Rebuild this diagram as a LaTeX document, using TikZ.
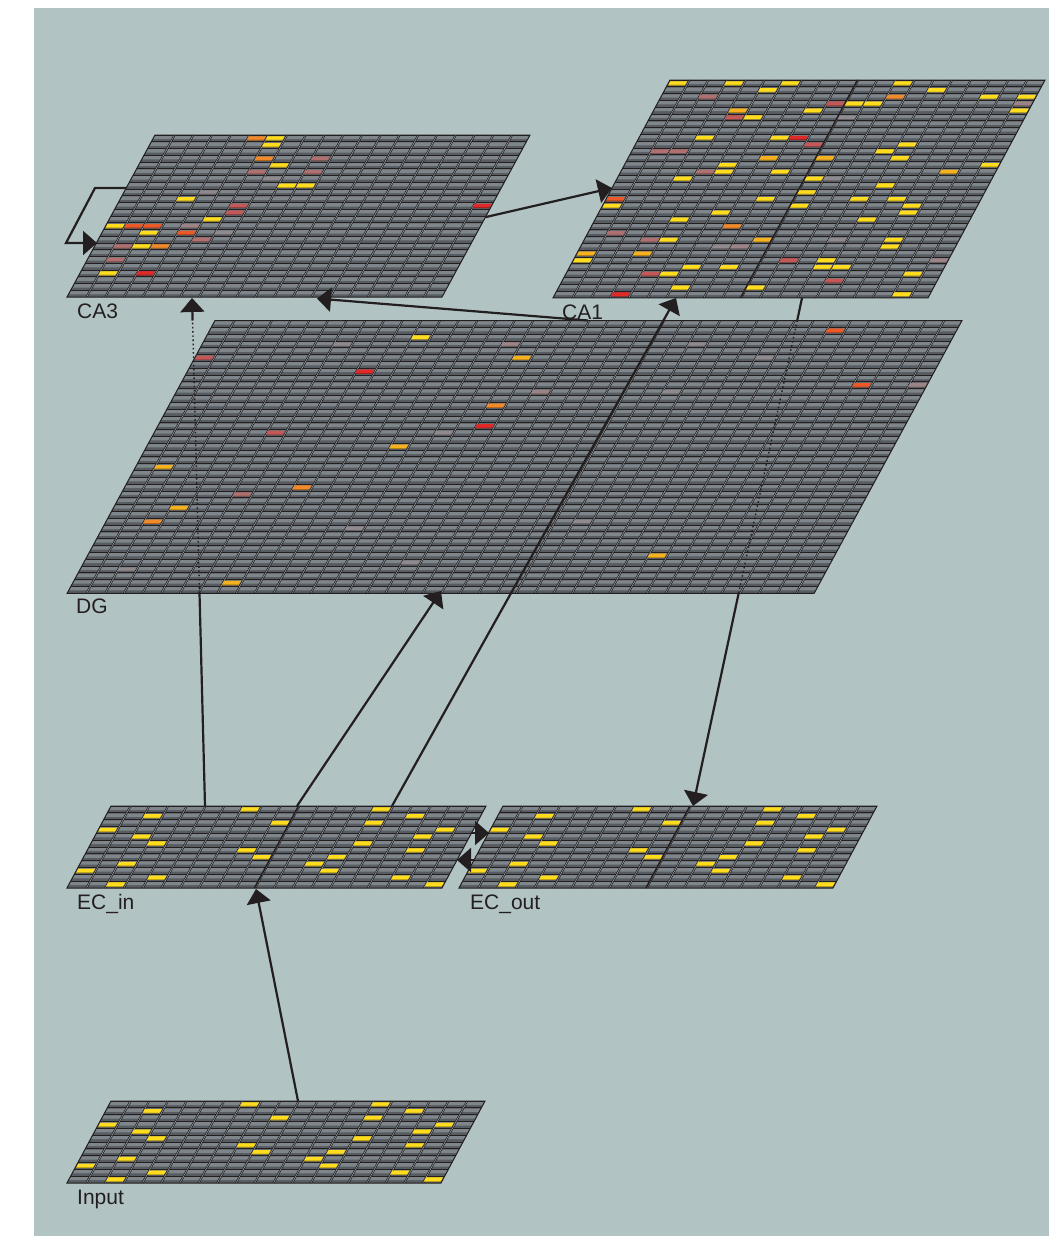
\documentclass[tikz,border=0pt]{standalone}
\usepackage{fontspec}
\setmainfont{Liberation Sans}
\usetikzlibrary{arrows.meta}
\definecolor{bg}{HTML}{B2C3C3}
\definecolor{clight}{HTML}{7E868B}
\definecolor{cdark}{HTML}{565C61}
\definecolor{cline}{HTML}{231F20}
\definecolor{csep}{HTML}{9AA1A5}
\definecolor{ltext}{HTML}{231F20}
\definecolor{cY}{HTML}{FFDC1E}
\definecolor{cA}{HTML}{F5B21E}
\definecolor{cO}{HTML}{F08A2A}
\definecolor{cOR}{HTML}{EC5A2A}
\definecolor{cR}{HTML}{E02A2A}
\definecolor{cRR}{HTML}{C45858}
\definecolor{cRo}{HTML}{B07070}
\definecolor{cMR}{HTML}{9C8486}
\definecolor{cM}{HTML}{8E8A8E}
\tikzset{
  conn/.style={draw=cline, line width=2.2pt},
  arr/.style={-{Triangle[length=14pt,width=24pt]}},
  thru/.style={draw=cline, line width=1.4pt, dash pattern=on 1.6pt off 2.6pt},
  grp/.style={draw=cline, line width=1.5pt},
  lbl/.style={anchor=base west, inner sep=0pt, text=ltext, font=\fontsize{21pt}{25pt}\selectfont},
}
% #1 x, #2 y, #3 slant, #4 cols, #5 rows, #6 cw, #7 rh, #8 cell list macro, #9 extra
\newcommand\drawlayer[9]{%
 \begin{scope}[shift={(#1,#2)},xslant=#3]
  \pgfmathsetmacro\LW{#4*#6}
  \pgfmathsetmacro\LH{#5*#7}
  \pgfmathtruncatemacro\LRm{#5-1}
  \pgfmathtruncatemacro\LCm{#4-1}
  \fill[cdark] (0,0) rectangle (\LW,\LH);
  \foreach \rr in {0,...,\LRm}{
    \fill[clight] (0,{\rr*#7+0.7}) rectangle (\LW,{\rr*#7+4.0});
    \draw[cline,line width=0.9pt] (0,{\rr*#7}) -- (\LW,{\rr*#7});}
  \foreach \cc in {1,...,\LCm}{
    \draw[csep,line width=1.1pt] ({\cc*#6+0.8},0) -- ({\cc*#6+0.8},\LH);
    \draw[cline,line width=0.55pt] ({\cc*#6},0) -- ({\cc*#6},\LH);
    \draw[cline,line width=0.55pt] ({\cc*#6+1.6},0) -- ({\cc*#6+1.6},\LH);}
  \foreach \cc/\rr/\kk in #8{
    \fill[fill=\kk!72!black] ({\cc*#6+0.9},{\rr*#7+1.3}) rectangle ({(\cc+1)*#6-1.1},{\rr*#7+5.6});
    \fill[fill=\kk] ({\cc*#6+0.9},{\rr*#7+1.3}) rectangle ({(\cc+1)*#6-1.1},{\rr*#7+4.7});}
  #9
  \draw[cline,line width=1pt] (0,0) rectangle (\LW,\LH);
 \end{scope}}
\def\ecpat{7/0/cY,14/0/cY,2/1/cY,16/1/cY,9/2/cY,14/2/cY,0/3/cY,18/3/cY,2/4/cY,17/4/cY,3/5/cY,14/5/cY,8/6/cY,17/6/cY,9/7/cY,13/7/cY,2/8/cY,12/8/cY,0/9/cY,13/9/cY,4/10/cY,17/10/cY,2/11/cY,19/11/cY}
\def\cathree{5/0/cO,6/0/cY,6/1/cY,6/3/cO,9/3/cRo,7/4/cY,6/5/cRo,9/5/cRo,7/6/cM,8/7/cY,9/7/cY,4/8/cM,3/9/cY,19/10/cR,6/10/cRR,6/11/cRR,5/12/cY,0/13/cY,1/13/cOR,2/13/cOR,4/13/cMR,2/14/cY,4/14/cOR,6/14/cM,5/15/cRo,1/16/cRo,2/16/cY,3/16/cO,1/18/cRo,1/20/cY,3/20/cR}
\def\caone{0/0/cY,3/0/cY,6/0/cY,12/0/cY,5/1/cY,14/1/cY,2/2/cRo,12/2/cO,17/2/cY,19/2/cY,9/3/cRR,10/3/cY,11/3/cY,19/3/cMR,4/4/cA,8/4/cY,19/4/cY,4/5/cRR,5/5/cY,10/5/cM,3/8/cY,7/8/cY,8/8/cR,9/9/cRR,14/9/cY,1/10/cRo,2/10/cRo,13/10/cY,7/11/cA,10/11/cA,14/11/cY,5/12/cY,19/12/cY,4/13/cRo,5/13/cY,8/13/cY,17/13/cA,3/14/cY,10/14/cY,11/14/cM,14/15/cY,10/16/cY,0/17/cOR,8/17/cY,13/17/cY,15/17/cY,0/18/cY,10/18/cY,16/18/cY,6/19/cY,16/19/cY,4/20/cY,14/20/cY,7/21/cO,1/22/cRo,3/23/cRo,4/23/cY,9/23/cA,13/23/cM,16/23/cY,7/24/cM,8/24/cMR,16/24/cY,0/25/cA,3/25/cA,0/26/cY,11/26/cRR,13/26/cY,19/26/cMR,6/27/cY,8/27/cY,13/27/cY,14/27/cY,4/28/cRR,5/28/cY,18/28/cY,14/29/cRR,6/30/cY,10/30/cY,3/31/cR,18/31/cY}
\def\dgpat{33/1/cOR,11/2/cY,7/3/cM,16/3/cMR,26/3/cM,0/5/cRR,17/5/cA,30/5/cM,9/7/cR,36/9/cOR,39/9/cMR,19/10/cMR,26/10/cM,17/12/cO,17/15/cR,6/16/cRR,15/16/cM,13/18/cA,1/21/cA,9/24/cO,6/25/cRo,3/27/cA,2/29/cO,25/29/cM,13/30/cM,30/34/cA,17/35/cM,2/36/cM,8/38/cA}
\begin{document}
\begin{tikzpicture}[x=1pt,y=-1pt]
\useasboundingbox (0,0) rectangle (1049,1243);
\fill[bg] (34,8) rectangle (1049,1236);
% layers
\drawlayer{111}{1101}{0.537}{20}{12}{18.7}{6.833}{\ecpat}{}
\drawlayer{111}{806}{0.537}{20}{12}{18.75}{6.833}{\ecpat}{\draw[grp] (187.5,0) -- (187.5,\LH);}
\drawlayer{503}{806}{0.537}{20}{12}{18.7}{6.833}{\ecpat}{\draw[grp] (187,0) -- (187,\LH);}
\drawlayer{215}{320.5}{0.542}{40}{40}{18.675}{6.82}{\dgpat}{}
\drawlayer{155}{135}{0.543}{20}{24}{18.75}{6.75}{\cathree}{}
\drawlayer{670}{80}{0.537}{20}{32}{18.75}{6.81}{\caone}{\draw[grp] (187.5,0) -- (187.5,\LH); \draw[grp] (0,163.4) -- (\LW,163.4);}
% connector points
\coordinate (inTop) at (298,1101);
\coordinate (ecinBot) at (256,889);
\coordinate (ecinTopA) at (297,806);
\coordinate (dgBot) at (441,591);
\coordinate (ecinTopB) at (205,806);
\coordinate (ca3cross1) at (199.5,593);
\coordinate (ca3cross2) at (192.6,320.5);
\coordinate (ca3BotA) at (192,298);
\coordinate (ecinTopC) at (392,806);
\coordinate (ca1BotA) at (676,298);
\coordinate (dgTop) at (588,320.5);
\coordinate (ca3BotB) at (317,298.5);
\coordinate (ca3Right) at (486,217);
\coordinate (ca1Left) at (612,188);
\coordinate (loopA) at (126,188);
\coordinate (loopB) at (95,188);
\coordinate (loopC) at (66,243);
\coordinate (loopD) at (97,243);
\coordinate (ca1BotB) at (802,298);
\coordinate (ecoutcross1) at (797.2,320.5);
\coordinate (ecoutcross2) at (738.7,593);
\coordinate (ecoutTop) at (693,806);
\coordinate (ecinR) at (471,833);
\coordinate (ecoutL) at (489,833);
\coordinate (ecoutL2) at (474,860);
\coordinate (ecinR2) at (457,860);
% connectors
\draw[conn,arr] (inTop) -- (ecinBot);
\draw[conn,arr] (ecinTopA) -- (dgBot);
\draw[conn] (ecinTopB) -- (ca3cross1);
\draw[thru] (ca3cross1) -- (ca3cross2);
\draw[conn,arr] (ca3cross2) -- (ca3BotA);
\draw[conn,arr] (ecinTopC) -- (ca1BotA);
\draw[conn,arr] (dgTop) -- (ca3BotB);
\draw[conn,arr] (ca3Right) -- (ca1Left);
\draw[conn,arr] (loopA) -- (loopB) -- (loopC) -- (loopD);
\draw[conn] (ca1BotB) -- (ecoutcross1);
\draw[thru] (ecoutcross1) -- (ecoutcross2);
\draw[conn,arr] (ecoutcross2) -- (ecoutTop);
\draw[conn,arr] (ecinR) -- (ecoutL);
\draw[conn,arr] (ecoutL2) -- (ecinR2);
% labels
\node[lbl] (lCA3) at (77,318) {CA3};
\node[lbl] (lCA1) at (562,319) {CA1};
\node[lbl] (lDG) at (76,613) {DG};
\node[lbl] (lECin) at (77,909.5) {EC\_in};
\node[lbl] (lECout) at (470,909.5) {EC\_out};
\node[lbl] (lInput) at (77,1204) {Input};
\end{tikzpicture}
\end{document}
